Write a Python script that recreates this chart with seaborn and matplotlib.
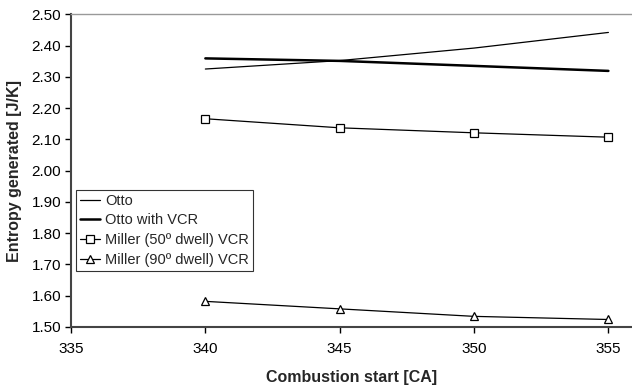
import matplotlib
matplotlib.use("Agg")
import matplotlib.pyplot as plt
import seaborn as sns
import pandas as pd

sns.set_theme(style="white")
plt.rcParams['font.family'] = ['Liberation Sans', 'DejaVu Sans']

x = [340, 345, 350, 355]
otto = [2.325, 2.352, 2.392, 2.442]
otto_vcr = [2.359, 2.351, 2.335, 2.319]
miller50 = [2.166, 2.137, 2.121, 2.107]
miller90 = [1.582, 1.558, 1.534, 1.524]

xticks = [335, 340, 345, 350, 355]
yticks = [1.50, 1.60, 1.70, 1.80, 1.90, 2.00, 2.10, 2.20, 2.30, 2.40, 2.50]

fig = plt.figure(figsize=(6.32, 3.85), dpi=100)
ax = fig.add_axes([71/632, 1 - 327/385, 1 - 71/632, (327 - 14.3)/385])

sns.lineplot(x=x, y=otto, ax=ax, color='black', lw=0.9, label='Otto')
sns.lineplot(x=x, y=otto_vcr, ax=ax, color='black', lw=1.8, label='Otto with VCR')
sns.lineplot(x=x, y=miller50, ax=ax, color='black', lw=0.9, marker='s', markersize=6,
             markerfacecolor='white', markeredgecolor='black', markeredgewidth=0.9,
             label='Miller (50º dwell) VCR')
sns.lineplot(x=x, y=miller90, ax=ax, color='black', lw=0.9, marker='^', markersize=6,
             markerfacecolor='white', markeredgecolor='black', markeredgewidth=0.9,
             label='Miller (90º dwell) VCR')

ax.set_xlim(335, 335 + (632 - 71) / 26.87)
ax.set_ylim(1.50, 2.50)
ax.set_xticks(xticks)
ax.set_yticks(yticks)
ax.set_yticklabels([f"{v:.2f}" for v in yticks])
ax.tick_params(axis='both', direction='out', length=4, width=1, colors='black',
               labelsize=11, bottom=True, left=True, pad=3)
ax.tick_params(axis='x', pad=7)
ax.spines['right'].set_visible(False)
ax.spines['top'].set_color('#999999')
ax.spines['top'].set_linewidth(1)
ax.spines['left'].set_color('#444444')
ax.spines['left'].set_linewidth(1.5)
ax.spines['bottom'].set_color('#444444')
ax.spines['bottom'].set_linewidth(1.5)

ax.set_xlabel('Combustion start [CA]', fontsize=11.5, fontweight='bold', labelpad=10)
ax.set_ylabel('Entropy generated [J/K]', fontsize=11.5, fontweight='bold', labelpad=7)

leg = ax.legend(loc='upper left', bbox_to_anchor=(5/561, 1 - (190-14.3)/312.7),
                frameon=True, fancybox=False, edgecolor='black', fontsize=10.5,
                handlelength=1.4, handletextpad=0.35, borderpad=0.25, labelspacing=0.4,
                borderaxespad=0)
leg.get_frame().set_linewidth(0.8)

fig.savefig('out.png', dpi=100)
